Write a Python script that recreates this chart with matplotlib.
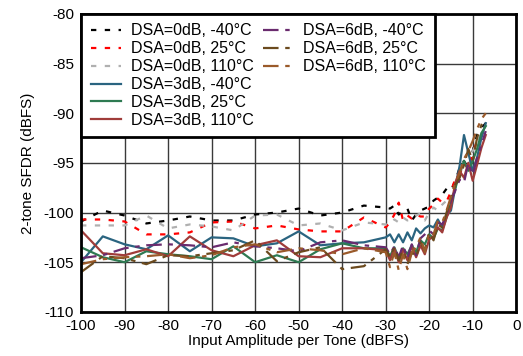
import matplotlib
matplotlib.use('Agg')
import matplotlib.pyplot as plt
from matplotlib.lines import Line2D

plt.rcParams['font.family'] = ['Liberation Sans', 'DejaVu Sans']
plt.rcParams['axes.unicode_minus'] = False

# input amplitude per tone (dBFS): coarse steps, then 1 dB steps near full scale
x_coarse = [-100, -95, -90, -85, -80, -75, -70, -65, -60, -55, -50, -45, -40, -35, -30]
x_fine = [-29, -28, -27, -26, -25, -24, -23, -22, -21, -20, -19, -18,
          -17, -16, -15, -14, -13, -12, -11, -10, -9, -8, -7]
x = x_coarse + x_fine

# 2-tone SFDR (dBFS)
dsa0_m40 = [-100.9, -99.8, -100.3, -101.1, -100.8, -100.4, -100.8, -100.8, -100.2, -100.0,
            -99.6, -100.3, -100.0, -99.3, -99.5,
            -99.6, -99.3, -100.2, -99.8, -99.6, -100.8, -100.2, -99.8, -99.6, -99.4, -98.8,
            -98.5, -98.2, -97.6, -97.8, -96.8, -95.5, -94.8, -95.6, -93.8, -92.2, -91.5, -91.0]
dsa0_25 = [-100.7, -100.7, -100.9, -102.2, -102.2, -102.0, -101.0, -100.9, -101.6, -101.3,
           -101.7, -101.9, -101.9, -100.5, -101.5,
           -101.0, -100.2, -99.0, -100.8, -100.3, -100.6, -100.2, -100.4, -100.4, -99.6, -99.2,
           -98.6, -99.0, -98.9, -97.9, -96.6, -96.2, -95.0, -95.6, -94.0, -92.8, -92.2, -91.5]
dsa0_110 = [-101.3, -101.3, -101.3, -100.3, -101.6, -101.2, -101.4, -101.8, -100.3, -100.2,
            -101.3, -101.1, -101.8, -101.0, -101.2,
            -101.2, -100.7, -101.0, -100.5, -100.8, -100.5, -100.3, -100.1, -100.8, -100.0, -99.5,
            -99.8, -99.2, -98.8, -98.5, -97.8, -96.0, -95.2, -95.5, -93.8, -93.0, -92.0, -91.2]
dsa3_m40 = [-105.0, -102.4, -103.2, -103.7, -102.3, -103.9, -102.5, -102.6, -103.4, -103.1,
            -101.9, -103.3, -103.1, -103.0, -102.5,
            -102.2, -103.0, -102.2, -103.0, -102.0, -102.8, -101.6, -102.1, -101.6, -101.3, -101.5,
            -100.7, -101.5, -100.3, -99.8, -97.5, -95.3, -92.2, -94.0, -95.8, -94.5, -92.5, -91.0]
dsa3_25 = [-103.5, -104.5, -105.0, -103.9, -104.2, -104.4, -104.7, -103.4, -105.0, -104.3,
           -105.0, -103.7, -103.1, -103.6, -103.6,
           -104.4, -103.5, -104.6, -103.6, -104.2, -103.3, -104.0, -102.8, -103.2, -102.2, -102.6,
           -101.6, -101.8, -100.5, -99.0, -97.6, -96.0, -94.8, -95.8, -94.8, -93.6, -92.0, -91.3]
dsa3_110 = [-101.8, -104.1, -104.3, -103.7, -104.4, -102.4, -103.8, -104.4, -103.3, -102.8,
            -104.4, -104.5, -103.6, -103.6, -103.8,
            -104.8, -103.6, -105.0, -103.7, -104.8, -103.4, -104.5, -103.3, -104.2, -102.7, -102.4,
            -101.5, -102.0, -100.5, -99.5, -97.0, -95.8, -96.5, -95.0, -96.8, -95.2, -93.5, -92.2]
dsa6_m40 = [-104.6, -104.3, -103.6, -103.3, -103.2, -103.3, -103.5, -103.0, -103.4, -103.6,
            -103.9, -103.0, -102.8, -103.3, -103.5,
            -104.2, -103.4, -104.5, -103.3, -104.6, -103.2, -104.3, -102.6, -102.2, -101.8, -102.2,
            -101.0, -101.2, -100.2, -98.8, -97.8, -96.7, -97.0, -95.0, -96.2, -94.5, -93.2, -91.8]
dsa6_25 = [-106.0, -104.4, -104.6, -105.2, -104.3, -104.4, -104.1, -103.8, -102.8, -104.9,
           -104.0, -103.5, -105.7, -105.4, -103.7,
           -104.5, -103.5, -104.8, -103.8, -105.2, -104.0, -104.5, -103.0, -103.8, -102.0, -102.8,
           -101.2, -101.5, -100.0, -98.5, -97.2, -96.5, -95.2, -93.6, -94.8, -92.5, -91.2, -90.6]
dsa6_110 = [-105.2, -104.7, -104.5, -104.4, -104.2, -104.6, -104.3, -103.5, -103.2, -104.0,
            -103.6, -103.8, -104.2, -103.6, -104.0,
            -105.5, -104.0, -105.8, -104.2, -105.7, -104.0, -103.5, -102.5, -104.0, -102.0, -102.2,
            -100.8, -101.0, -99.8, -98.4, -97.0, -96.0, -94.6, -93.8, -92.8, -91.6, -90.6, -90.0]

labels = ['DSA=0dB, -40°C', 'DSA=0dB, 25°C', 'DSA=0dB, 110°C',
          'DSA=3dB, -40°C', 'DSA=3dB, 25°C', 'DSA=3dB, 110°C',
          'DSA=6dB, -40°C', 'DSA=6dB, 25°C', 'DSA=6dB, 110°C']
series = [dsa0_m40, dsa0_25, dsa0_110, dsa3_m40, dsa3_25, dsa3_110, dsa6_m40, dsa6_25, dsa6_110]
colors = ['#000000', '#ff0000', '#b0b0b0', '#2a6480', '#2e7a52', '#a03c3a',
          '#6a2b6e', '#6b4a1e', '#9a5a2a']
short_dash = (2.4, 3.8)
long_short = (7, 3, 2, 3)
styles = [short_dash] * 3 + [None] * 3 + [long_short] * 3

fig = plt.figure(figsize=(5.23, 3.56), dpi=100)
ax = fig.add_axes([0.155, 0.124, 0.832, 0.837])

handles = []
for y, lab, c, st in zip(series, labels, colors, styles):
    if st is None:
        h, = ax.plot(x, y, color=c, lw=1.6, label=lab)
    else:
        h, = ax.plot(x, y, color=c, lw=1.6, dashes=st, label=lab)
    handles.append(h)

ax.set_xlim(-100, 0)
ax.set_ylim(-110, -80)
ax.set_xticks(range(-100, 1, 10))
ax.set_yticks(range(-110, -79, 5))
ax.grid(True, color='#3a3a3a', lw=1)
ax.set_axisbelow(True)
ax.tick_params(length=0, labelsize=11, pad=5)
for s in ax.spines.values():
    s.set_linewidth(2)
ax.set_xlabel('Input Amplitude per Tone (dBFS)', fontsize=11, labelpad=1)
ax.set_ylabel('2-tone SFDR (dBFS)', fontsize=11, labelpad=6)

blank = [Line2D([], [], color='none') for _ in range(3)]
leg = ax.legend(handles + blank, labels + [' ', ' ', ' '],
                ncol=2, loc='upper left', bbox_to_anchor=(0, 1), borderaxespad=0,
                fontsize=11.5, handlelength=1.9, labelspacing=0.18, columnspacing=0.6,
                handletextpad=0.6, borderpad=0.6, fancybox=False, framealpha=1,
                edgecolor='black')
leg.get_frame().set_linewidth(2)

fig.savefig('out.png', dpi=100)
